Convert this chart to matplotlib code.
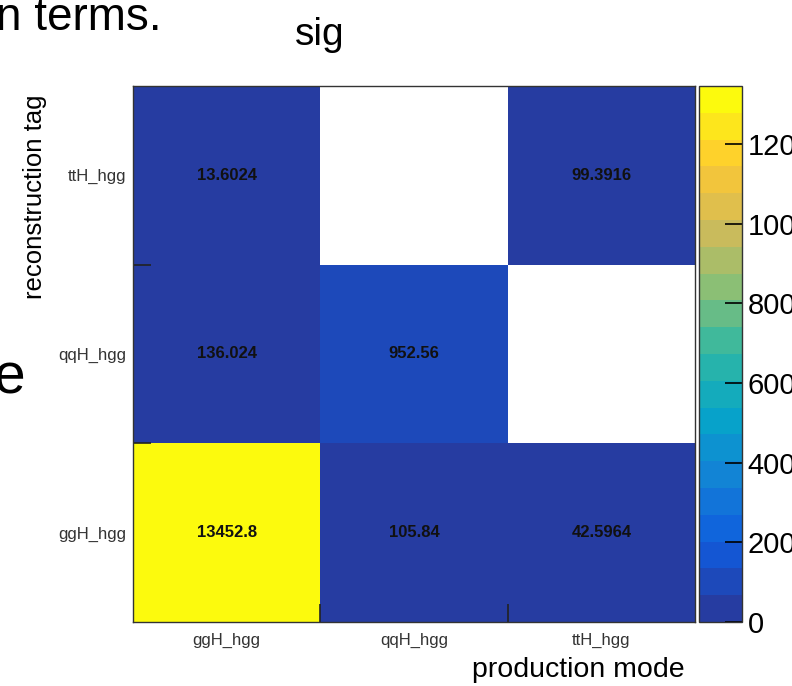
import numpy as np
import matplotlib
matplotlib.use("Agg")
import matplotlib.pyplot as plt
from matplotlib.colors import LinearSegmentedColormap, BoundaryNorm, ListedColormap

plt.rcParams['font.family'] = ['Liberation Sans', 'DejaVu Sans']

# production mode (x) and reconstruction tag (y)
prod_modes = ["ggH_hgg", "qqH_hgg", "ttH_hgg"]
reco_tags = ["ggH_hgg", "qqH_hgg", "ttH_hgg"]

# rows = reconstruction tag (bottom -> top), cols = production mode
row_ggH = [13452.8, 105.84, 42.5964]
row_qqH = [136.024, 952.56, 0.0]
row_ttH = [13.6024, 0.0, 99.3916]
cell_text = [["13452.8", "105.84", "42.5964"],
             ["136.024", "952.56", ""],
             ["13.6024", "", "99.3916"]]

cbar_ticks = [0, 2000, 4000, 6000, 8000, 10000, 12000]
n_contours = 20

vals = np.array([row_ggH, row_qqH, row_ttH])
vmax = vals.max()

# kBird-like palette, low end tuned to the screenshot
stops = [0.0, 0.125, 0.25, 0.375, 0.5, 0.625, 0.75, 0.875, 1.0]
red = [0.15, 0.06, 0.078, 0.0232, 0.1802, 0.5301, 0.8186, 0.9956, 0.99]
green = [0.235, 0.36, 0.5041, 0.6419, 0.7178, 0.7492, 0.7328, 0.7862, 0.98]
blue = [0.63, 0.87, 0.8385, 0.7914, 0.6425, 0.4662, 0.3499, 0.1968, 0.05]
bird = LinearSegmentedColormap.from_list(
    "bird", list(zip(stops, zip(red, green, blue))))
band_cols = [bird(i / (n_contours - 1)) for i in range(n_contours)]
cmap = ListedColormap(band_cols)
cmap.set_bad("white")
levels = np.linspace(0, vmax, n_contours + 1)
norm = BoundaryNorm(levels, cmap.N)

fig = plt.figure(figsize=(7.92, 6.86), dpi=100)
W, H = 792.0, 686.0
ax = fig.add_axes([133 / W, 1 - 622 / H, (695 - 133) / W, (622 - 86) / H])
cax = fig.add_axes([699 / W, 1 - 622 / H, (742 - 699) / W, (622 - 86) / H])

masked = np.ma.masked_where(vals <= 0, vals)
mesh = ax.pcolormesh(np.arange(4), np.arange(4), masked, cmap=cmap, norm=norm)

for r in range(3):
    for c in range(3):
        if cell_text[r][c]:
            ax.text(c + 0.5, r + 0.5, cell_text[r][c], ha="center", va="center",
                    fontsize=12, fontweight="bold", color="#111111")

ax.set_xlim(0, 3)
ax.set_ylim(0, 3)
ax.set_xticks([0.5, 1.5, 2.5])
ax.set_xticklabels(prod_modes)
ax.set_yticks([0.5, 1.5, 2.5])
ax.set_yticklabels(reco_tags)
ax.tick_params(axis="both", which="major", length=0, labelsize=12, colors="#333333")
ax.tick_params(axis="x", which="major", pad=8)
ax.tick_params(axis="y", which="major", pad=5)
ax.set_xticks([1, 2], minor=True)
ax.set_yticks([1, 2], minor=True)
ax.tick_params(axis="both", which="minor", direction="in", length=13,
               width=1.2, color="#222222")
for sp in ax.spines.values():
    sp.set_linewidth(1.0)
    sp.set_color("#333333")

ax.set_xlabel("production mode", fontsize=20.5, ha="right", x=0.982, labelpad=6)
ax.set_ylabel("reconstruction tag", fontsize=18.5, ha="right", y=0.985, labelpad=8)

cb = fig.colorbar(mesh, cax=cax, ticks=cbar_ticks)
cb.minorticks_off()
cb.outline.set_linewidth(1.0)
cb.outline.set_edgecolor("#333333")
cax.tick_params(direction="in", length=12, width=1.2, labelsize=21, pad=4)
cax.set_yticklabels([str(t) for t in cbar_ticks])

fig.text(320 / W, 1 - 35 / H, "sig", fontsize=28, ha="center", va="center")

# slide text around the plot
fig.text(-4 / W, 1 - 30 / H, "n terms.", fontsize=33, ha="left", va="baseline")
fig.text(-6 / W, 1 - 393 / H, "e", fontsize=41, ha="left", va="baseline")

fig.savefig("out.png", dpi=100)
